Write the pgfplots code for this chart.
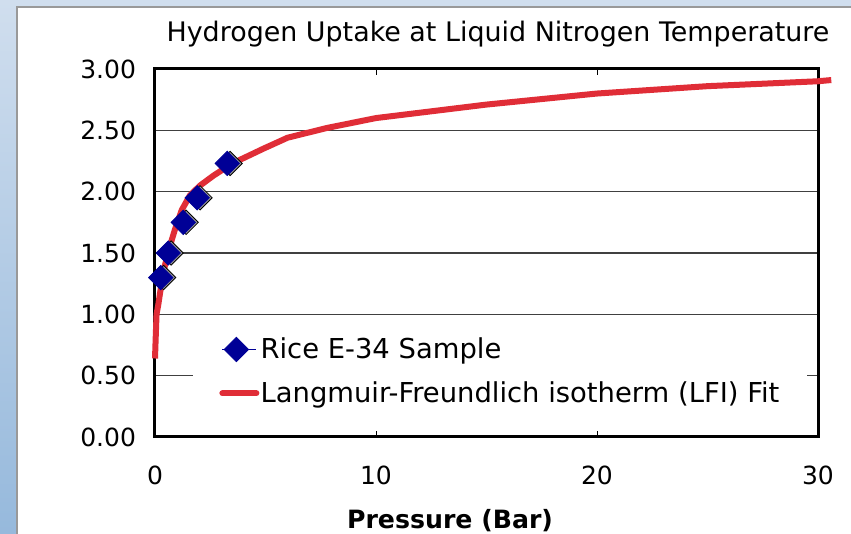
\documentclass[border=0pt]{standalone}
\usepackage{pgfplots}
\pgfplotsset{compat=1.18}
\usepackage{fontspec}
\setmainfont{DejaVu Sans}
\definecolor{fitred}{RGB}{224,45,55}
\definecolor{navy}{RGB}{0,0,150}
\definecolor{bgtop}{RGB}{208,222,238}
\definecolor{bgbot}{RGB}{150,185,220}
\pgfplotsset{
    lineleg/.style={legend image code/.code={\draw[##1, line cap=round] (0pt,0pt) -- (17pt,0pt);}},
    markleg/.style={legend image code/.code={\path (0pt,0pt) -- (17pt,0pt); \draw[##1] plot coordinates {(7pt,0pt)};}},
}
\begin{document}
\begin{tikzpicture}
% 1px of the reference = 0.5pt, origin at the axis origin
\useasboundingbox (-77.5pt,-48.5pt) rectangle (348pt,218.5pt);
\shade[top color=bgtop, bottom color=bgbot] (-77.5pt,-48.5pt) rectangle (348pt,218.5pt);
\draw[fill=white, draw=gray!80, line width=0.6pt] (-69pt,-50pt) rectangle (350pt,215pt);
\begin{axis}[
    at={(0pt,0pt)}, anchor=south west,
    scale only axis,
    width=331.5pt, height=184pt,
    xmin=0, xmax=30, ymin=0, ymax=3,
    xtick={0,10,20,30},
    ytick={0,0.5,1,1.5,2,2.5,3},
    /pgf/number format/assume math mode=true,
    tick label style={font=\fontsize{12.5}{14}\selectfont},
    yticklabel style={xshift=-6pt, /pgf/number format/fixed, /pgf/number format/fixed zerofill, /pgf/number format/precision=2},
    xticklabel style={yshift=-11pt},
    ymajorgrids,
    grid style={draw=black!75, line width=0.6pt},
    axis line style={line width=1.5pt},
    tick align=inside,
    major tick length=3pt,
    xtick style={black, line width=0.5pt},
    ytick style={draw=none},
    clip=false,
    xlabel={Pressure (Bar)},
    xlabel style={font=\bfseries\fontsize{12.6}{14}\selectfont, at={(rel axis cs:0.445,0)}, anchor=base, yshift=-46pt},
    legend style={at={(0.0573,0.304)}, anchor=north west, draw=none, fill=white,
        font=\fontsize{13.7}{16}\selectfont, inner xsep=13pt, inner ysep=4pt, row sep=6pt,
        nodes={inner xsep=0.6pt}},
    legend cell align=left,
    reverse legend,
]
\addplot[fitred, line width=3pt, line join=round, lineleg] coordinates {
    (0.00,0.64)(0.03,0.80)(0.07,1.00)(0.15,1.08)(0.26,1.21)(0.45,1.40)(0.68,1.56)
    (0.90,1.69)(1.21,1.85)(1.58,1.97)(2.04,2.05)(2.64,2.13)(3.24,2.20)(3.85,2.26)
    (4.90,2.35)(6.00,2.44)(7.80,2.52)(10.00,2.60)(15.00,2.71)(20.00,2.80)
    (25.00,2.86)(30.00,2.90)(30.60,2.91)
};
\addlegendentry{Langmuir-Freundlich isotherm (LFI) Fit}
\addplot[only marks, mark=square*, mark size=4.3pt, draw=none, fill=black!40,
    mark options={rotate=45, xshift=1pt, yshift=-1pt, draw=none}, forget plot] coordinates {
    (0.26,1.30) (0.60,1.50) (1.28,1.75) (1.91,1.95) (3.27,2.23)
};
\addplot[only marks, mark=square*, mark size=4.3pt, navy, mark options={rotate=45, fill=navy}, markleg] coordinates {
    (0.26,1.30) (0.60,1.50) (1.28,1.75) (1.91,1.95) (3.27,2.23)
};
\addlegendentry{Rice E-34 Sample}
\end{axis}
\node[anchor=base, font=\fontsize{13.45}{16}\selectfont] at (171.5pt,197.5pt) {Hydrogen Uptake at Liquid Nitrogen Temperature};
\end{tikzpicture}
\end{document}
